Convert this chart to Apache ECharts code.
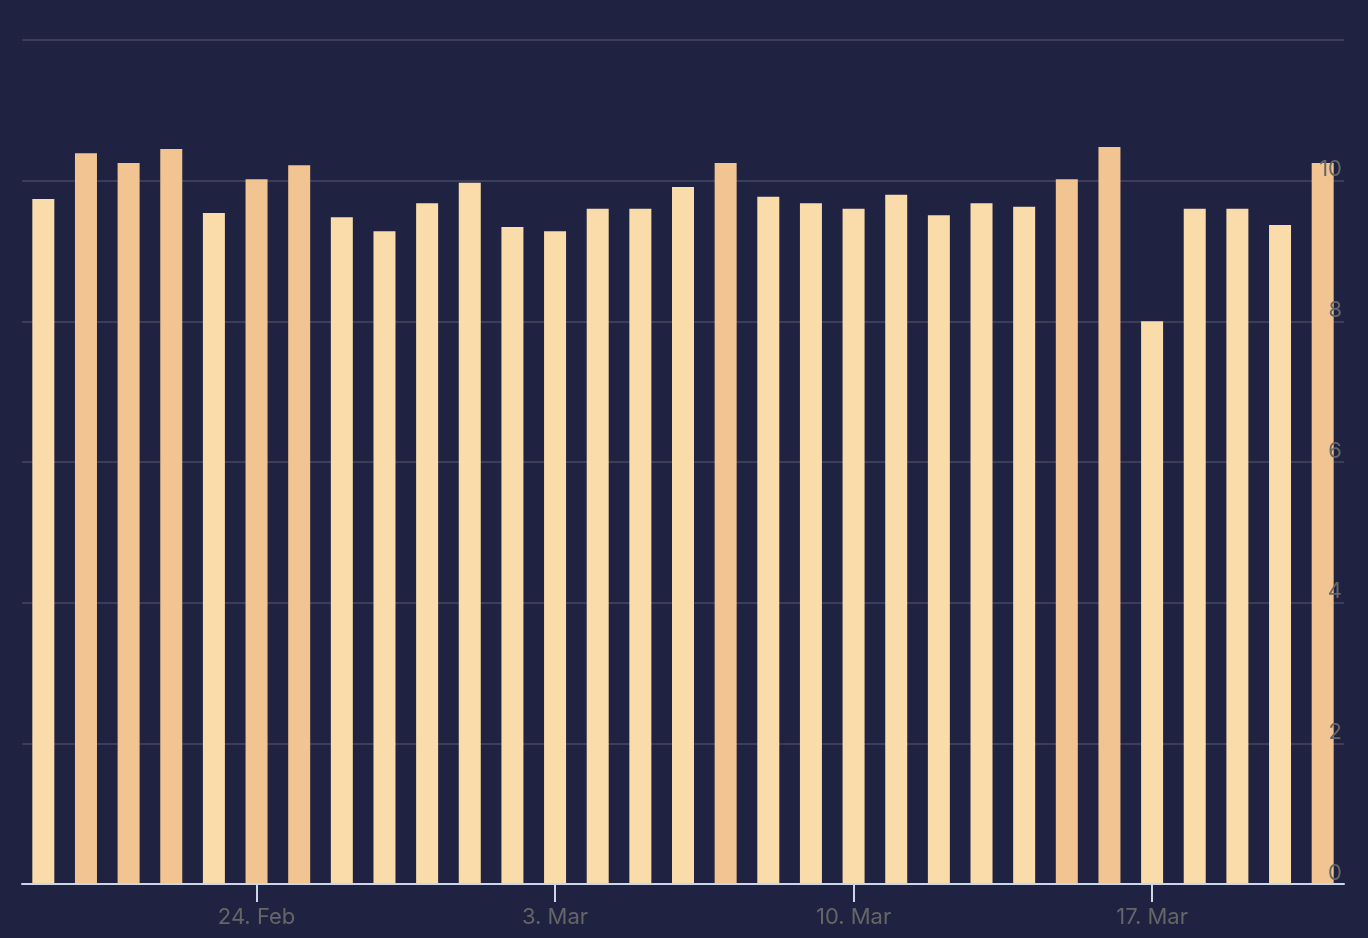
<!DOCTYPE html>
<html>
<head>
<meta charset="utf-8">
<script src="https://cdn.jsdelivr.net/npm/echarts@6/dist/echarts.min.js"></script>
<style>
html,body{margin:0;padding:0;background:#1f2240;}
#chart{width:1368px;height:938px;}
</style>
</head>
<body>
<div id="chart"></div>
<script>
const categories = [
  "19. Feb","20. Feb","21. Feb","22. Feb","23. Feb","24. Feb","25. Feb","26. Feb","27. Feb","28. Feb",
  "1. Mar","2. Mar","3. Mar","4. Mar","5. Mar","6. Mar","7. Mar","8. Mar","9. Mar","10. Mar",
  "11. Mar","12. Mar","13. Mar","14. Mar","15. Mar","16. Mar","17. Mar","18. Mar","19. Mar","20. Mar","21. Mar"
];
const values = [
  9.74, 10.39, 10.25, 10.45, 9.54, 10.02, 10.22, 9.48, 9.28, 9.68,
  9.97, 9.34, 9.28, 9.60, 9.60, 9.91, 10.25, 9.77, 9.68, 9.60,
  9.80, 9.51, 9.68, 9.63, 10.02, 10.48, 8.00, 9.60, 9.60, 9.37, 10.25
];
const labelledDates = ["24. Feb","3. Mar","10. Mar","17. Mar"];
const yTicks = [0, 2, 4, 6, 8, 10, 12];
const threshold = 10;

const chart = echarts.init(document.getElementById('chart'), null, {renderer:'canvas'});
const showIdx = (i) => labelledDates.indexOf(categories[i]) >= 0;
const yBase = {
  type: 'value',
  position: 'right',
  min: yTicks[0],
  max: yTicks[yTicks.length - 1],
  interval: 2,
  axisLine: {show: false},
  axisTick: {show: false}
};
chart.setOption({
  backgroundColor: '#1f2240',
  animation: false,
  grid: {left: 22, right: 24, top: 40, bottom: 54, containLabel: false},
  xAxis: {
    type: 'category',
    data: categories,
    z: 5,
    axisLine: {lineStyle: {color: '#ccd6eb', width: 2}},
    axisTick: {show: true, alignWithLabel: true, interval: (i) => showIdx(i), length: 18, lineStyle: {color: '#ccd6eb', width: 2}},
    axisLabel: {interval: (i) => showIdx(i), color: '#666666', fontSize: 22, fontFamily: 'Inter', margin: 22},
    splitLine: {show: false}
  },
  yAxis: [
    Object.assign({}, yBase, {
      z: 0,
      axisLabel: {show: false},
      splitLine: {show: true, lineStyle: {color: '#46485e', width: 1.5}}
    }),
    Object.assign({}, yBase, {
      z: 10,
      splitLine: {show: false},
      axisLabel: {inside: true, showMaxLabel: false, margin: 2, color: '#666666', fontSize: 22, fontFamily: 'Inter', verticalAlign: 'bottom', lineHeight: 22}
    })
  ],
  series: [{
    type: 'bar',
    data: values,
    yAxisIndex: 0,
    barWidth: 22,
    itemStyle: {
      color: (p) => p.value >= threshold ? '#f2c491' : '#fadcab'
    },
    z: 2
  }]
});
</script>
</body>
</html>
